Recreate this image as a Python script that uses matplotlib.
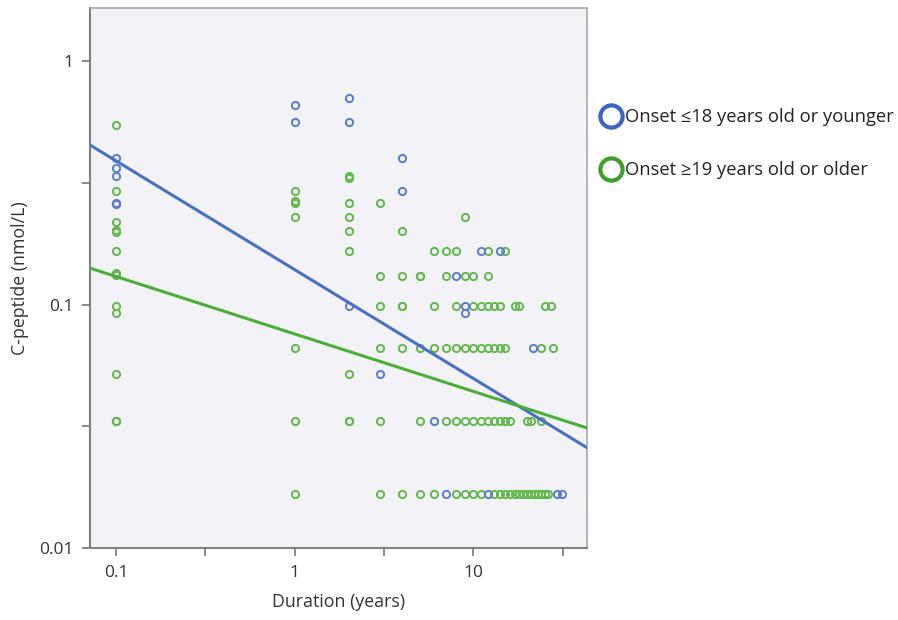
import matplotlib.pyplot as plt
import numpy as np
from matplotlib.lines import Line2D

plt.rcParams['font.family'] = ['Open Sans', 'DejaVu Sans']

# Onset <=18 years (blue)
blue_dur = [0.1, 0.1, 0.1, 0.1, 0.1,
            1, 1,
            2, 2, 2,
            3,
            4, 4,
            6, 7, 8, 9, 9, 11, 12, 14,
            21.6, 29.4, 31.3]
blue_cp = [0.40, 0.364, 0.337, 0.261, 0.258,
           0.66, 0.562,
           0.705, 0.562, 0.099,
           0.052,
           0.40, 0.292,
           0.0331, 0.0166, 0.131, 0.099, 0.092, 0.166, 0.0166, 0.166,
           0.066, 0.0166, 0.0166]

# Onset >=19 years (green)
green_dur = [0.1] * 13 + [1] * 7 + [2] * 9 + [3] * 6 + [4] * 6 + [5] * 5 + \
            [6] * 4 + [7] * 4 + [8] * 5 + [9] * 5 + [10] * 5 + [11] * 4 + \
            [12] * 5 + [13] * 4 + [14] * 4 + [15] * 4 + [16] * 2 + [17] * 2 + \
            [18] * 2 + [19] + [20] * 2 + [21] * 2 + [22] + [23] + [24] * 3 + \
            [25] * 2 + [26] + [27] + [28]
green_cp = [0.546, 0.292, 0.218, 0.202, 0.198, 0.166, 0.135, 0.132, 0.099, 0.092, 0.052, 0.0331, 0.0331,
            0.292, 0.265, 0.262, 0.229, 0.066, 0.0331, 0.0166,
            0.337, 0.331, 0.26, 0.229, 0.2, 0.166, 0.052, 0.0331, 0.0331,
            0.26, 0.131, 0.099, 0.066, 0.0331, 0.0166,
            0.2, 0.131, 0.099, 0.099, 0.066, 0.0166,
            0.131, 0.131, 0.066, 0.0331, 0.0166,
            0.166, 0.099, 0.066, 0.0166,
            0.166, 0.131, 0.066, 0.0331,
            0.166, 0.099, 0.066, 0.0331, 0.0166,
            0.229, 0.131, 0.066, 0.0331, 0.0166,
            0.131, 0.099, 0.066, 0.0331, 0.0166,
            0.099, 0.066, 0.0331, 0.0166,
            0.166, 0.131, 0.099, 0.066, 0.0331,
            0.099, 0.066, 0.0331, 0.0166,
            0.099, 0.066, 0.0331, 0.0166,
            0.166, 0.066, 0.0331, 0.0166,
            0.0331, 0.0166,
            0.099, 0.0166,
            0.099, 0.0166,
            0.0166,
            0.0331, 0.0166,
            0.0331, 0.0166,
            0.0166,
            0.0166,
            0.066, 0.0331, 0.0166,
            0.099, 0.0166,
            0.0166,
            0.099,
            0.066]

# log10(y) = a + b*log10(x)
blue_fit = (-0.857, -0.447)
green_fit = (-1.121, -0.236)

labels = ['Onset \u226418 years old or younger', 'Onset \u226519 years old or older']
blue_pt, green_pt = '#5b7bd0', '#62b84c'
blue_ln, green_ln = '#4a70c6', '#4cae3a'

xlim = (0.0715, 43.2)
ylim = (0.01, 1.65)

fig = plt.figure(figsize=(8.98, 6.2), dpi=100)
ax = fig.add_axes([0.1002, 0.1161, 0.5535, 0.8709])
ax.set_facecolor('#f3f3f7')

ax.plot(green_dur, green_cp, 'o', mfc='none', mec=green_pt, ms=5.2, mew=1.4, zorder=3)
ax.plot(blue_dur, blue_cp, 'o', mfc='none', mec=blue_pt, ms=5.2, mew=1.4, zorder=3)

# lineas de ajuste
xx = np.array(xlim)
for (a, b), c in [(blue_fit, blue_ln), (green_fit, green_ln)]:
    ax.plot(xx, 10 ** (a + b * np.log10(xx)), color=c, lw=2.2, zorder=4)

ax.set_xscale('log')
ax.set_yscale('log')
ax.set_xlim(xlim)
ax.set_ylim(ylim)

ax.set_xticks([0.1, 1, 10])
ax.set_xticklabels(['0.1', '1', '10'])
ax.set_xticks([10 ** -0.5, 10 ** 0.5, 10 ** 1.5], minor=True)
ax.set_yticks([0.01, 0.1, 1])
ax.set_yticklabels(['0.01', '0.1', '1'])
ax.set_yticks([10 ** -1.5, 10 ** -0.5], minor=True)
ax.tick_params(which='both', direction='out', length=6, width=1.3, color='#808080',
               labelsize=12.5, labelcolor='#333333', pad=6)

for s in ['left', 'bottom']:
    ax.spines[s].set_color('#808080')
    ax.spines[s].set_linewidth(1.5)
for s in ['top', 'right']:
    ax.spines[s].set_color('#a8a8a8')
    ax.spines[s].set_linewidth(1.2)

ax.set_xlabel('Duration (years)', fontsize=12.8, color='#333333', labelpad=9)
ax.set_ylabel('C-peptide (nmol/L)', fontsize=12.8, color='#333333', labelpad=7)

handles = [Line2D([], [], ls='none', marker='o', mfc='none', mec=c, ms=16, mew=3)
           for c in ['#3a64c0', '#3e9e2e']]
fig.legend(handles, labels, loc='upper left', bbox_to_anchor=(0.671, 0.825),
           frameon=False, fontsize=13.2, handlelength=0.9, handletextpad=0.35,
           labelspacing=1.9, borderpad=0, borderaxespad=0, labelcolor='#222222')

fig.savefig('out.png', dpi=100)
